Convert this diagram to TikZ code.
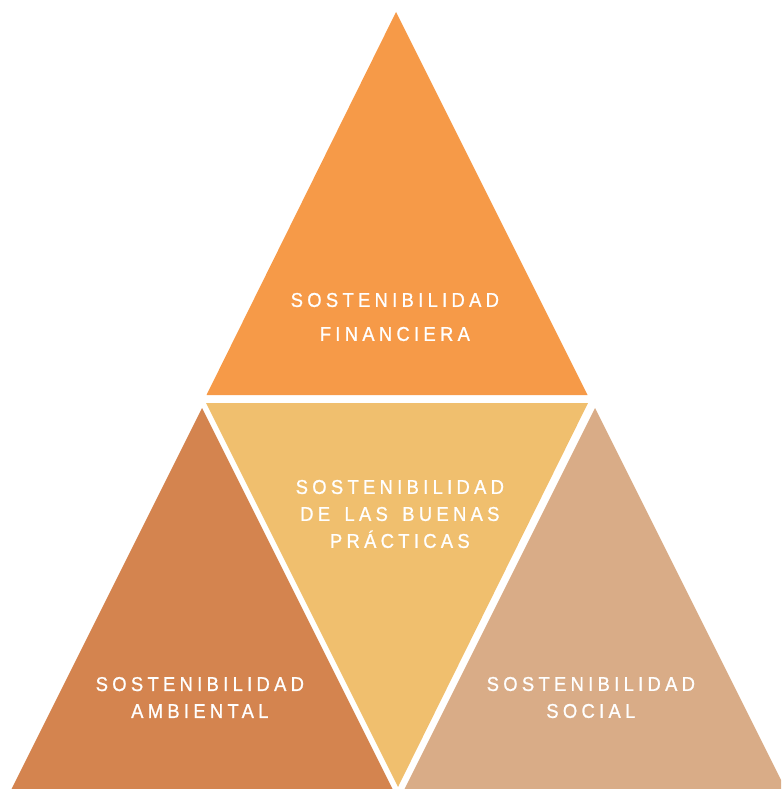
\documentclass[tikz,border=0pt]{standalone}
\usepackage{fontspec}
\setmainfont{Liberation Sans}
\newfontfamily\labelfont[LetterSpace=21.5,FakeStretch=0.92,FakeBold=1]{Liberation Sans}
% letter spacing sits before each glyph: pull the line back by one step
\newcommand{\spln}[1]{\kern-0.215em#1}
\newcommand{\wsp}{\ \kern5pt}
\definecolor{finorange}{HTML}{F69A48}
\definecolor{goodyellow}{HTML}{F0BF6E}
\definecolor{envbrown}{HTML}{D4844F}
\definecolor{soctan}{HTML}{D9AC87}
\begin{document}
\begin{tikzpicture}[x=1pt,y=-1pt,
  caption/.style={text=white,align=center,font=\labelfont\fontsize{20}{27}\selectfont,inner sep=0pt}]
\useasboundingbox (0,0) rectangle (781,789);
\clip (0,0) rectangle (781,789);
% four triangles
\fill[finorange] (396,12) -- (587.5,395) -- (206.5,395) -- cycle;
\fill[goodyellow] (206,403) -- (588,403) -- (398,787) -- cycle;
\fill[envbrown] (202,408) -- (393,790) -- (11,790) -- cycle;
\fill[soctan] (595,408) -- (786,790) -- (404,790) -- cycle;
% labels
\node[caption] (fin1) at (397,300) {\spln{SOSTENIBILIDAD}};
\node[caption] (fin2) at (397,334) {\spln{FINANCIERA}};
\node[caption] (good) at (402,514) {\spln{SOSTENIBILIDAD}\\\spln{DE\wsp LAS\wsp BUENAS}\\\spln{PRÁCTICAS}};
\node[caption] (env) at (202,697.5) {\spln{SOSTENIBILIDAD}\\\spln{AMBIENTAL}};
\node[caption] (soc) at (593,697.5) {\spln{SOSTENIBILIDAD}\\\spln{SOCIAL}};
\end{tikzpicture}
\end{document}
